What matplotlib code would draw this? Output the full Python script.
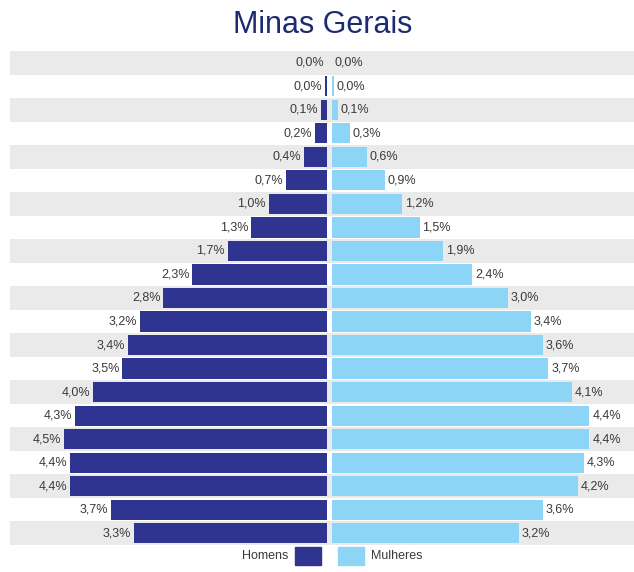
import numpy as np
import matplotlib.pyplot as plt
from matplotlib.patches import Rectangle

# Age groups from oldest (top) to youngest (bottom), percent of population
homens = [0.0, 0.03, 0.1, 0.2, 0.4, 0.7, 1.0, 1.3, 1.7, 2.3, 2.8,
          3.2, 3.4, 3.5, 4.0, 4.3, 4.5, 4.4, 4.4, 3.7, 3.3]
mulheres = [0.0, 0.03, 0.1, 0.3, 0.6, 0.9, 1.2, 1.5, 1.9, 2.4, 3.0,
            3.4, 3.6, 3.7, 4.1, 4.4, 4.4, 4.3, 4.2, 3.6, 3.2]

COR_H = "#2E3490"
COR_M = "#8DD5F7"
COR_TXT = "#3A3A3A"
FONTE = ["Liberation Sans", "DejaVu Sans"]

homens = np.array(homens)
mulheres = np.array(mulheres)
y = np.arange(len(homens))
gap = 0.043

fig = plt.figure(figsize=(6.34, 5.72), dpi=100)
W, H = 634, 572
ax = fig.add_axes([10 / W, 1 - 545 / H, 624 / W, 494 / H])

# alternating background stripes
for i in y:
    if i % 2 == 0:
        ax.axhspan(i - 0.5, i + 0.5, color="#EAEAEA", zorder=0, lw=0)

ax.barh(y, -homens, left=-gap, height=0.86, color=COR_H, zorder=2)
ax.barh(y, mulheres, left=gap, height=0.86, color=COR_M, zorder=2)

for i in y:
    ax.annotate(f"{homens[i]:.1f}%".replace(".", ","), (-gap - homens[i], i),
                xytext=(-2, 0), textcoords="offset points", ha="right", va="center",
                fontsize=9, color=COR_TXT, family=FONTE)
    ax.annotate(f"{mulheres[i]:.1f}%".replace(".", ","), (gap + mulheres[i], i),
                xytext=(2, 0), textcoords="offset points", ha="left", va="center",
                fontsize=9, color=COR_TXT, family=FONTE)

ax.set_xlim(-5.462, 5.205)
ax.set_ylim(len(y) - 0.5, -0.5)
ax.axis("off")

fig.text(323 / W, 1 - 33 / H, "Minas Gerais", ha="center", va="baseline",
         fontsize=22, color="#1C2A72", family=FONTE)

# legend
fig.add_artist(Rectangle((295 / W, 1 - 565 / H), 26 / W, 18 / H,
                         transform=fig.transFigure, color=COR_H))
fig.add_artist(Rectangle((338 / W, 1 - 565 / H), 26 / W, 18 / H,
                         transform=fig.transFigure, color=COR_M))
fig.text(288 / W, 1 - 556 / H, "Homens", ha="right", va="center",
         fontsize=9, color=COR_TXT, family=FONTE)
fig.text(371 / W, 1 - 556 / H, "Mulheres", ha="left", va="center",
         fontsize=9, color=COR_TXT, family=FONTE)

fig.savefig("out.png", dpi=100)
plt.close(fig)
